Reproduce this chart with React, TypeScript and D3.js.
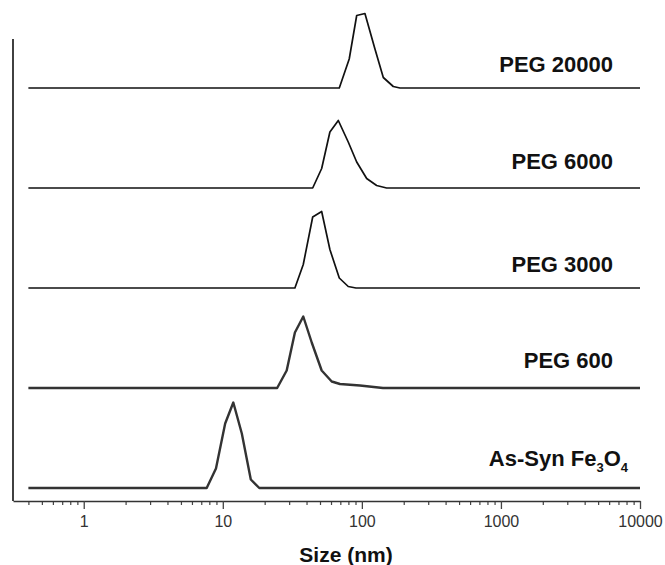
import * as d3 from "d3";
import { useEffect, useRef } from "react";

// DLS size distributions (size in nm, intensity in arbitrary units)
const seriesNames = ["As-Syn", "PEG 600", "PEG 3000", "PEG 6000", "PEG 20000"];
const seriesOffsets = [0, 20, 40, 60, 80];

const asSynSizes = [0.4, 7.66, 8.93, 10.4, 11.9, 13.7, 15.9, 18.3, 10000];
const asSynValues = [0, 0, 3.9, 12.9, 17.1, 10.9, 1.7, 0, 0];

const peg600Sizes = [0.4, 24.6, 28.8, 33.0, 37.9, 43.6, 51.4, 60.7, 69.6, 96.9, 141.8, 10000];
const peg600Values = [0, 0, 3.5, 11.1, 14.3, 9.1, 3.5, 1.3, 0.8, 0.5, 0, 0];

const peg3000Sizes = [0.4, 33.0, 37.9, 44.3, 51.4, 58.9, 68.8, 79.8, 90.7, 10000];
const peg3000Values = [0, 0, 4.7, 14.2, 15.3, 7.7, 2.0, 0.3, 0, 0];

const peg6000Sizes = [0.4, 44.3, 51.4, 58.9, 67.7, 79.8, 91.8, 108.3, 127.7, 150.7, 10000];
const peg6000Values = [0, 0, 3.9, 11.2, 13.5, 9.2, 5.2, 1.9, 0.5, 0, 0];

const peg20000Sizes = [0.4, 68.8, 81.1, 91.8, 105.2, 124.2, 142.6, 168.2, 187.8, 10000];
const peg20000Values = [0, 0, 5.8, 14.5, 14.9, 7.8, 2.1, 0.3, 0, 0];

const majorTicks = [1, 10, 100, 1000, 10000];
const xDomain = [0.31, 10000];
const yDomain = [-2.6, 89.8];
const xLabel = "Size (nm)";

const allSizes = [asSynSizes, peg600Sizes, peg3000Sizes, peg6000Sizes, peg20000Sizes];
const allValues = [asSynValues, peg600Values, peg3000Values, peg6000Values, peg20000Values];

// per-series line look (bottom two traces are heavier/greyer in the source)
const strokeWidths = [2.4, 2.4, 1.7, 1.7, 1.7];
const strokeColors = ["#333", "#333", "#111", "#111", "#111"];
const labelDy = [-22, -20, -16, -19, -16];

const FONT = "'Liberation Sans', Arial, Helvetica, sans-serif";

export default function App() {
  const ref = useRef<SVGSVGElement | null>(null);

  useEffect(() => {
    const svgEl = ref.current;
    if (!svgEl) return;
    const svg = d3.select(svgEl);
    svg.selectAll("*").remove();

    const left = 13;
    const right = 640;
    const top = 39;
    const bottom = 501;

    const x = d3.scaleLog().domain(xDomain).range([left, right]);
    const y = d3.scaleLinear().domain(yDomain).range([bottom, top]);

    // minor ticks
    const minor: number[] = [];
    for (let k = -1; k <= 3; k++) {
      for (let n = 2; n <= 9; n++) {
        const v = n * Math.pow(10, k);
        if (v >= xDomain[0] && v <= xDomain[1]) minor.push(v);
      }
    }

    const minorAxis = svg.append("g").attr("transform", `translate(0,${bottom})`);
    minorAxis.call(
      d3.axisBottom(x).tickValues(minor).tickSize(4).tickSizeOuter(0).tickFormat(() => "")
    );
    minorAxis.select(".domain").remove();
    minorAxis.selectAll("line").attr("stroke", "#444").attr("stroke-width", 1.2);

    const majorAxis = svg.append("g").attr("transform", `translate(0,${bottom})`);
    majorAxis.call(
      d3
        .axisBottom(x)
        .tickValues(majorTicks)
        .tickSize(8)
        .tickSizeOuter(0)
        .tickPadding(7)
        .tickFormat((d) => String(d))
    );
    majorAxis.select(".domain").attr("stroke", "#333").attr("stroke-width", 1.5);
    majorAxis.selectAll("line").attr("stroke", "#444").attr("stroke-width", 1.3);
    majorAxis
      .selectAll("text")
      .attr("fill", "#333")
      .attr("font-size", 16)
      .attr("font-family", FONT);

    // left axis line (no ticks)
    svg
      .append("line")
      .attr("x1", left)
      .attr("x2", left)
      .attr("y1", top)
      .attr("y2", bottom)
      .attr("stroke", "#111")
      .attr("stroke-width", 1.6);

    const line = d3
      .line<[number, number]>()
      .x((d) => x(d[0]))
      .y((d) => y(d[1]));

    seriesNames.forEach((name, i) => {
      const pts: [number, number][] = allSizes[i].map((s, j) => [s, allValues[i][j] + seriesOffsets[i]]);
      svg
        .append("path")
        .attr("d", line(pts))
        .attr("fill", "none")
        .attr("stroke", strokeColors[i])
        .attr("stroke-width", strokeWidths[i])
        .attr("stroke-linejoin", "round");

      const t = svg
        .append("text")
        .attr("x", i === 0 ? 628 : 613)
        .attr("y", y(seriesOffsets[i]) + labelDy[i])
        .attr("text-anchor", "end")
        .attr("font-family", FONT)
        .attr("font-weight", "bold")
        .attr("font-size", 22)
        .attr("fill", "#111");
      if (i === 0) {
        t.append("tspan").text(name + " Fe");
        t.append("tspan").attr("font-size", 13).attr("dy", 6).text("3");
        t.append("tspan").attr("dy", -6).text("O");
        t.append("tspan").attr("font-size", 13).attr("dy", 6).text("4");
      } else {
        t.text(name);
      }
    });

    svg
      .append("text")
      .attr("x", 346)
      .attr("y", 562)
      .attr("text-anchor", "middle")
      .attr("font-family", FONT)
      .attr("font-weight", "bold")
      .attr("font-size", 21)
      .attr("fill", "#111")
      .text(xLabel);
  }, []);

  return (
    <svg
      ref={ref}
      width={665}
      height={565}
      style={{ position: "absolute", left: 0, top: 0, background: "#fff" }}
    />
  );
}
